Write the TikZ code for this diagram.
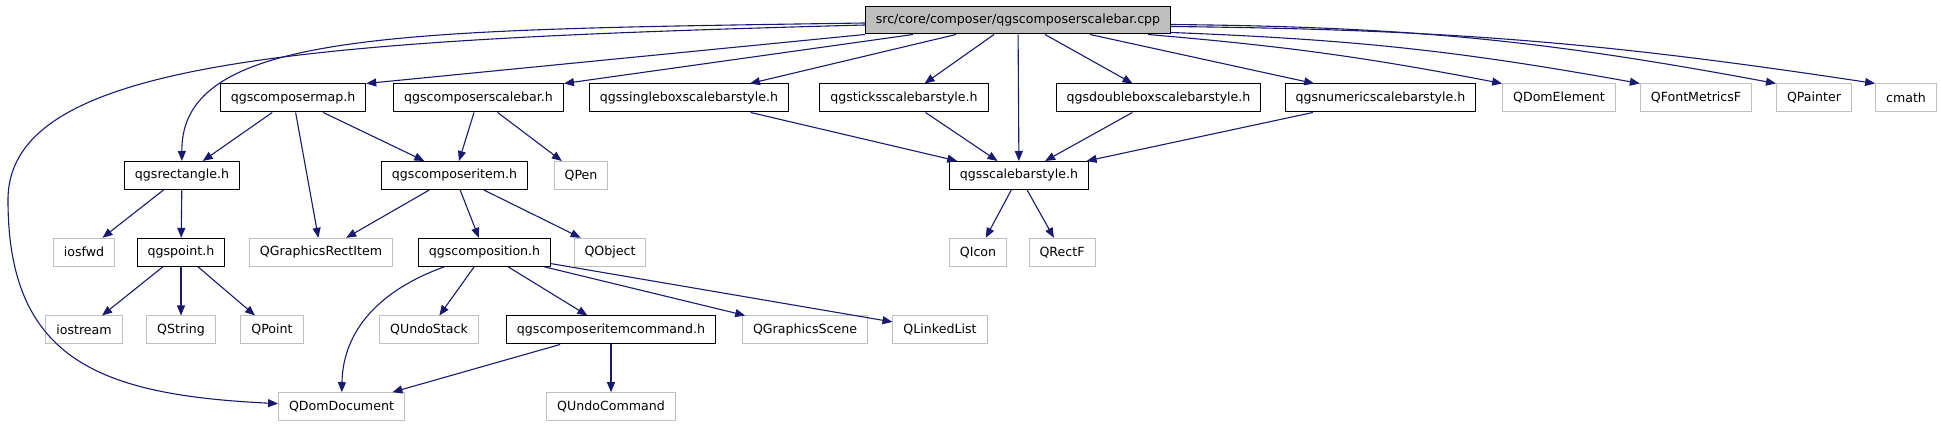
\documentclass[tikz,border=0pt]{standalone}
\usepackage{fontspec}
\setmainfont{DejaVu Sans}
\usetikzlibrary{arrows.meta}

\begin{document}
\begin{tikzpicture}[x=1pt,y=-1pt]
  % Parameters
  \def\rowA{20.5}
  \def\rowB{98}
  \def\rowC{175.5}
  \def\rowD{252.3}
  \def\rowE{330}
  \def\rowF{406.7}

  \definecolor{edgeblue}{HTML}{191970}
  \definecolor{boxgray}{HTML}{BFBFBF}

  % Box and arrow styles
  \tikzset{
    file/.style={draw=black, line width=1pt, minimum height=28pt,
      inner xsep=10.5pt, inner ysep=0pt, font=\fontsize{12.6}{14}\selectfont},
    ext/.style={file, draw=boxgray},
    edge/.style={draw=edgeblue, line width=1.1pt,
      -{Triangle[length=10pt,width=8pt]}}
  }

  \useasboundingbox (0,0) rectangle (1941,427);

  % Root file
  \node[file, fill=boxgray, minimum height=27pt] (root) at (1018,\rowA)
    {src/core/composer/qgscomposerscalebar.cpp};

  % Headers of the project
  \node[file] (map)         at (293,\rowB)    {qgscomposermap.h};
  \node[file] (scalebar)    at (478.5,\rowB)  {qgscomposerscalebar.h};
  \node[file] (single)      at (689,\rowB)    {qgssingleboxscalebarstyle.h};
  \node[file] (ticks)       at (904,\rowB)    {qgsticksscalebarstyle.h};
  \node[file] (double)      at (1158.5,\rowB) {qgsdoubleboxscalebarstyle.h};
  \node[file] (numeric)     at (1380.5,\rowB) {qgsnumericscalebarstyle.h};
  \node[file] (rect)        at (182,\rowC)    {qgsrectangle.h};
  \node[file] (compitem)    at (454.5,\rowC)  {qgscomposeritem.h};
  \node[file] (style)       at (1019,\rowC)   {qgsscalebarstyle.h};
  \node[file] (point)       at (181,\rowD)    {qgspoint.h};
  \node[file] (composition) at (484.5,\rowD)  {qgscomposition.h};
  \node[file] (compcmd)     at (611,\rowE)    {qgscomposeritemcommand.h};

  % Outside headers, row by row
  \foreach \name/\x/\txt in {domelem/1559/QDomElement, fontm/1696/QFontMetricsF,
      painter/1814/QPainter, cmath/1906/cmath}
    \node[ext] (\name) at (\x,\rowB) {\txt};
  \node[ext] (pen) at (581,\rowC) {QPen};
  \foreach \name/\x/\txt in {iosfwd/84/iosfwd, qgri/321/QGraphicsRectItem,
      qobject/610/QObject, qicon/978/QIcon, qrectf/1062/QRectF}
    \node[ext] (\name) at (\x,\rowD) {\txt};
  \foreach \name/\x/\txt in {iostream/84/iostream, qstring/181/QString,
      qpoint/272/QPoint, undostack/429/QUndoStack, gscene/805/QGraphicsScene,
      linkedlist/940/QLinkedList}
    \node[ext] (\name) at (\x,\rowE) {\txt};
  \node[ext] (domdoc)  at (341.5,\rowF) {QDomDocument};
  \node[ext] (undocmd) at (611,\rowF)   {QUndoCommand};

  % Includes of the root file
  \draw[edge] (root.south west) -- (map.north east);
  \draw[edge] ([xshift=-105pt]root.south) -- (scalebar.north east);
  \draw[edge] ([xshift=-62pt]root.south) -- (single);
  \draw[edge] ([xshift=-24pt]root.south) -- (ticks);
  \draw[edge] (root) -- (style);
  \draw[edge] ([xshift=27pt]root.south) -- (double);
  \draw[edge] ([xshift=72pt]root.south) -- (numeric);
  \draw[edge] ([xshift=130pt]root.south) to[bend left=3] (domelem.north west);
  \draw[edge] ([yshift=2pt]root.south east) to[bend left=4] (fontm.north west);
  \draw[edge] ([yshift=-4pt]root.east) to[bend left=5] (painter.north west);
  \draw[edge] ([yshift=-6pt]root.east) to[bend left=4] (cmath.north west);
  \draw[edge] ([yshift=-2.5pt]root.west) .. controls (400,30) and (181,30) .. (rect);
  \draw[edge] ([yshift=-4.5pt]root.west) .. controls (300,40) and (8,60) .. (8,200)
    .. controls (8,360) and (100,395) .. (domdoc);

  % Includes between headers
  \foreach \a/\b in {map/rect, map/qgri, map/compitem, scalebar/compitem,
      scalebar/pen, single/style, ticks/style, double/style, numeric/style,
      rect/iosfwd, rect/point, compitem/qgri, compitem/composition,
      compitem/qobject, style/qicon, style/qrectf, point/iostream,
      point/qstring, point/qpoint, composition/undostack,
      composition/compcmd, composition/gscene, composition/linkedlist,
      compcmd/domdoc, compcmd/undocmd}
    \draw[edge] (\a) -- (\b);
  \draw[edge] (composition) .. controls (380,290) and (343,330) .. (domdoc);

\end{tikzpicture}
\end{document}
